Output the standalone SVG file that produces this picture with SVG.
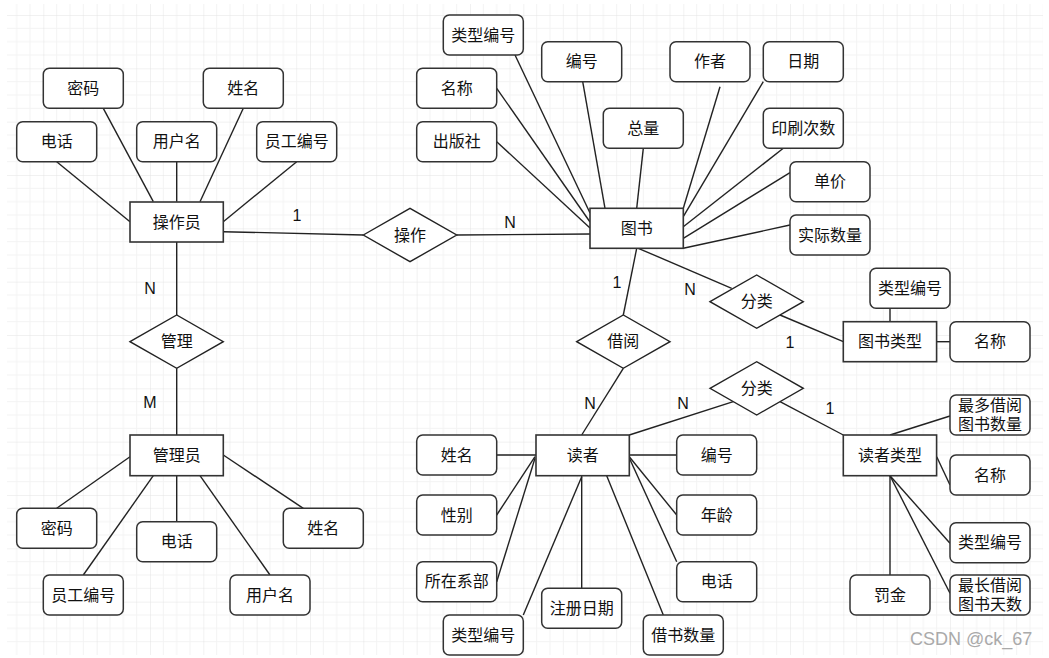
<svg xmlns="http://www.w3.org/2000/svg" width="1049" height="658" viewBox="0 0 1049 658">
<defs>
<pattern id="grid" patternUnits="userSpaceOnUse" x="43.333" y="15" width="53.333" height="53.333">
<path d="M13.333 0V53.333M26.667 0V53.333M40 0V53.333M0 13.333H53.333M0 26.667H53.333M0 40H53.333" stroke="#f3f3f3" stroke-width="1" fill="none"/>
<path d="M0 0V53.333M0 0H53.333" stroke="#e3e3e3" stroke-width="1" fill="none"/>
</pattern>
<style>
.ent{fill:#fff;stroke:#333;stroke-width:1.6}
.att{fill:#fff;stroke:#333;stroke-width:1.5}
.rel{fill:#fff;stroke:#222;stroke-width:1.4}
.t{font-family:"Liberation Sans","Noto Sans CJK SC",sans-serif;font-size:16px;fill:#111;text-anchor:middle}
.c line{stroke:#222;stroke-width:1.4}
.lbl{font-family:"Liberation Sans","Noto Sans CJK SC",sans-serif;font-size:16px;fill:#111;text-anchor:middle}
.wm{font-family:"Liberation Sans","Noto Sans CJK SC",sans-serif;font-size:18px;fill:#aaa}
</style>
</defs>
<rect width="1049" height="658" fill="#fff"/>
<rect x="7" y="4" width="1036" height="651" fill="url(#grid)"/>

<g id="connectors" class="c">
<line x1="56.7" y1="161.7" x2="130" y2="221.7"/>
<line x1="103.3" y1="108.3" x2="153.3" y2="201.7"/>
<line x1="176.7" y1="161.7" x2="176.7" y2="201.7"/>
<line x1="243.3" y1="108.3" x2="200" y2="201.7"/>
<line x1="296.7" y1="161.7" x2="223.3" y2="221.7"/>
<line x1="223.3" y1="231.7" x2="363.3" y2="235"/>
<line x1="456.7" y1="235" x2="590" y2="234"/>
<line x1="176.7" y1="241.7" x2="176.7" y2="315"/>
<line x1="176.7" y1="368.3" x2="176.7" y2="435"/>
<line x1="56.7" y1="508.3" x2="130" y2="456.7"/>
<line x1="83.3" y1="575" x2="153.3" y2="475.7"/>
<line x1="176.7" y1="475.7" x2="176.7" y2="521.7"/>
<line x1="200" y1="475.7" x2="270" y2="575"/>
<line x1="223.3" y1="455" x2="303.3" y2="508.3"/>
<line x1="515" y1="55" x2="590" y2="213"/>
<line x1="496.7" y1="88.3" x2="590" y2="222"/>
<line x1="496.7" y1="141.7" x2="590" y2="228"/>
<line x1="582.7" y1="81.7" x2="605" y2="208.3"/>
<line x1="643.3" y1="148.3" x2="636.7" y2="208.3"/>
<line x1="720" y1="86.7" x2="683.3" y2="208.3"/>
<line x1="763.3" y1="81.7" x2="683.3" y2="216.7"/>
<line x1="783.3" y1="148.3" x2="683.3" y2="226.7"/>
<line x1="790" y1="172.7" x2="683.3" y2="238.3"/>
<line x1="790" y1="225" x2="683.3" y2="248.3"/>
<line x1="636.7" y1="248.3" x2="623.3" y2="315"/>
<line x1="623.3" y1="368.3" x2="581.7" y2="435"/>
<line x1="638.3" y1="248.3" x2="731.7" y2="288.3"/>
<line x1="780" y1="315" x2="843.3" y2="341.7"/>
<line x1="890" y1="308.3" x2="890" y2="321.7"/>
<line x1="936.7" y1="341.7" x2="950" y2="341.7"/>
<line x1="629.3" y1="435" x2="733.3" y2="401.7"/>
<line x1="780" y1="401.7" x2="843.3" y2="435"/>
<line x1="890" y1="435" x2="950" y2="416"/>
<line x1="936.7" y1="456.7" x2="950" y2="485"/>
<line x1="890" y1="475.7" x2="950" y2="543.3"/>
<line x1="890" y1="475.7" x2="950" y2="593.3"/>
<line x1="890" y1="475.7" x2="890" y2="575"/>
<line x1="496.7" y1="455" x2="536" y2="455"/>
<line x1="496.7" y1="515" x2="535" y2="456.7"/>
<line x1="496.7" y1="581.7" x2="535" y2="458.3"/>
<line x1="523.3" y1="615" x2="581.7" y2="476.7"/>
<line x1="581.7" y1="475.7" x2="581.7" y2="588.3"/>
<line x1="606.7" y1="475.7" x2="663.3" y2="615"/>
<line x1="629.3" y1="455" x2="676.7" y2="455"/>
<line x1="629.3" y1="456.7" x2="676.7" y2="515"/>
<line x1="629.3" y1="458" x2="676.7" y2="561.7"/>
</g>

<g id="cardinality">
<text class="lbl" x="297" y="221">1</text>
<text class="lbl" x="510" y="228">N</text>
<text class="lbl" x="150" y="294">N</text>
<text class="lbl" x="150" y="408">M</text>
<text class="lbl" x="617" y="288">1</text>
<text class="lbl" x="590" y="409">N</text>
<text class="lbl" x="690" y="295">N</text>
<text class="lbl" x="790" y="348">1</text>
<text class="lbl" x="683" y="409">N</text>
<text class="lbl" x="830" y="414">1</text>
</g>

<!-- entities -->
<g id="e-czy"><rect class="ent" x="130" y="202" width="93.3" height="40"/><text class="t" x="176.7" y="222" dy="0.35em">操作员</text></g>
<g id="e-ts"><rect class="ent" x="590" y="208.3" width="93.3" height="40"/><text class="t" x="636.7" y="228.3" dy="0.35em">图书</text></g>
<g id="e-gly"><rect class="ent" x="130" y="435" width="93.3" height="40.7"/><text class="t" x="176.7" y="455.3" dy="0.35em">管理员</text></g>
<g id="e-dz"><rect class="ent" x="536" y="435" width="93.3" height="40.7"/><text class="t" x="582.7" y="455.3" dy="0.35em">读者</text></g>
<g id="e-tslx"><rect class="ent" x="843.3" y="321.7" width="93.3" height="40"/><text class="t" x="890" y="341.7" dy="0.35em">图书类型</text></g>
<g id="e-dzlx"><rect class="ent" x="843.3" y="435" width="93.3" height="40.7"/><text class="t" x="890" y="455.3" dy="0.35em">读者类型</text></g>

<!-- relationships -->
<g id="r-cz"><polygon class="rel" points="363.3,235 410,208.3 456.7,235 410,261.7"/><text class="t" x="410" y="235" dy="0.35em">操作</text></g>
<g id="r-gl"><polygon class="rel" points="130,341.7 176.7,315 223.3,341.7 176.7,368.3"/><text class="t" x="176.7" y="341.7" dy="0.35em">管理</text></g>
<g id="r-jy"><polygon class="rel" points="576.7,341.7 623.3,315 670,341.7 623.3,368.3"/><text class="t" x="623.3" y="341.7" dy="0.35em">借阅</text></g>
<g id="r-fl1"><polygon class="rel" points="710,301.7 756.7,275 803.3,301.7 756.7,328.3"/><text class="t" x="756.7" y="301.7" dy="0.35em">分类</text></g>
<g id="r-fl2"><polygon class="rel" points="710,388.3 756.7,361.7 803.3,388.3 756.7,415"/><text class="t" x="756.7" y="388.3" dy="0.35em">分类</text></g>

<!-- 操作员 attributes -->
<g id="a-czy-mm"><rect class="att" x="43.3" y="68.3" width="80" height="40" rx="6"/><text class="t" x="83.3" y="88.3" dy="0.35em">密码</text></g>
<g id="a-czy-xm"><rect class="att" x="203.3" y="68.3" width="80" height="40" rx="6"/><text class="t" x="243.3" y="88.3" dy="0.35em">姓名</text></g>
<g id="a-czy-dh"><rect class="att" x="16.7" y="121.7" width="80" height="40" rx="6"/><text class="t" x="56.7" y="141.7" dy="0.35em">电话</text></g>
<g id="a-czy-yhm"><rect class="att" x="136.7" y="121.7" width="80" height="40" rx="6"/><text class="t" x="176.7" y="141.7" dy="0.35em">用户名</text></g>
<g id="a-czy-ygbh"><rect class="att" x="256.7" y="121.7" width="80" height="40" rx="6"/><text class="t" x="296.7" y="141.7" dy="0.35em">员工编号</text></g>

<!-- 管理员 attributes -->
<g id="a-gly-mm"><rect class="att" x="16.7" y="508.3" width="80" height="40" rx="6"/><text class="t" x="56.7" y="528.3" dy="0.35em">密码</text></g>
<g id="a-gly-ygbh"><rect class="att" x="43.3" y="575" width="80" height="40" rx="6"/><text class="t" x="83.3" y="595" dy="0.35em">员工编号</text></g>
<g id="a-gly-dh"><rect class="att" x="136.7" y="521.7" width="80" height="40" rx="6"/><text class="t" x="176.7" y="541.7" dy="0.35em">电话</text></g>
<g id="a-gly-yhm"><rect class="att" x="230" y="575" width="80" height="40" rx="6"/><text class="t" x="270" y="595" dy="0.35em">用户名</text></g>
<g id="a-gly-xm"><rect class="att" x="283.3" y="508.3" width="80" height="40" rx="6"/><text class="t" x="323.3" y="528.3" dy="0.35em">姓名</text></g>

<!-- 图书 attributes -->
<g id="a-ts-lxbh"><rect class="att" x="443.3" y="15" width="80" height="40" rx="6"/><text class="t" x="483.3" y="35" dy="0.35em">类型编号</text></g>
<g id="a-ts-bh"><rect class="att" x="541.7" y="41.7" width="80" height="40" rx="6"/><text class="t" x="581.7" y="61.7" dy="0.35em">编号</text></g>
<g id="a-ts-zz"><rect class="att" x="670" y="41.7" width="80" height="40" rx="6"/><text class="t" x="710" y="61.7" dy="0.35em">作者</text></g>
<g id="a-ts-rq"><rect class="att" x="763.3" y="41.7" width="80" height="40" rx="6"/><text class="t" x="803.3" y="61.7" dy="0.35em">日期</text></g>
<g id="a-ts-mc"><rect class="att" x="416.7" y="68.3" width="80" height="40" rx="6"/><text class="t" x="456.7" y="88.3" dy="0.35em">名称</text></g>
<g id="a-ts-cbs"><rect class="att" x="416.7" y="121.7" width="80" height="40" rx="6"/><text class="t" x="456.7" y="141.7" dy="0.35em">出版社</text></g>
<g id="a-ts-zl"><rect class="att" x="603.3" y="108.3" width="80" height="40" rx="6"/><text class="t" x="643.3" y="128.3" dy="0.35em">总量</text></g>
<g id="a-ts-yscs"><rect class="att" x="763.3" y="108.3" width="80" height="40" rx="6"/><text class="t" x="803.3" y="128.3" dy="0.35em">印刷次数</text></g>
<g id="a-ts-dj"><rect class="att" x="790" y="161.7" width="80" height="40" rx="6"/><text class="t" x="830" y="181.7" dy="0.35em">单价</text></g>
<g id="a-ts-sjsl"><rect class="att" x="790" y="215" width="80" height="40" rx="6"/><text class="t" x="830" y="235" dy="0.35em">实际数量</text></g>

<!-- 图书类型 attributes -->
<g id="a-tslx-lxbh"><rect class="att" x="870" y="268.3" width="80" height="40" rx="6"/><text class="t" x="910" y="288.3" dy="0.35em">类型编号</text></g>
<g id="a-tslx-mc"><rect class="att" x="950" y="321.7" width="80" height="40" rx="6"/><text class="t" x="990" y="341.7" dy="0.35em">名称</text></g>

<!-- 读者类型 attributes -->
<g id="a-dzlx-zdsl"><rect class="att" x="950" y="395" width="80" height="40" rx="6"/><text class="t" x="990" y="405.5" dy="0.35em">最多借阅</text><text class="t" x="990" y="424.5" dy="0.35em">图书数量</text></g>
<g id="a-dzlx-mc"><rect class="att" x="950" y="455" width="80" height="40" rx="6"/><text class="t" x="990" y="475" dy="0.35em">名称</text></g>
<g id="a-dzlx-lxbh"><rect class="att" x="950" y="522.7" width="80" height="40" rx="6"/><text class="t" x="990" y="542.7" dy="0.35em">类型编号</text></g>
<g id="a-dzlx-zcts"><rect class="att" x="950" y="575" width="80" height="40" rx="6"/><text class="t" x="990" y="585.5" dy="0.35em">最长借阅</text><text class="t" x="990" y="604.5" dy="0.35em">图书天数</text></g>
<g id="a-dzlx-fj"><rect class="att" x="850" y="575" width="80" height="40" rx="6"/><text class="t" x="890" y="595" dy="0.35em">罚金</text></g>

<!-- 读者 attributes -->
<g id="a-dz-xm"><rect class="att" x="416.7" y="435" width="80" height="40" rx="6"/><text class="t" x="456.7" y="455" dy="0.35em">姓名</text></g>
<g id="a-dz-xb"><rect class="att" x="416.7" y="495" width="80" height="40" rx="6"/><text class="t" x="456.7" y="515" dy="0.35em">性别</text></g>
<g id="a-dz-szxb"><rect class="att" x="416.7" y="561.7" width="80" height="40" rx="6"/><text class="t" x="456.7" y="581.7" dy="0.35em">所在系部</text></g>
<g id="a-dz-lxbh"><rect class="att" x="443.3" y="615" width="80" height="40" rx="6"/><text class="t" x="483.3" y="635" dy="0.35em">类型编号</text></g>
<g id="a-dz-zcrq"><rect class="att" x="541.7" y="588.3" width="80" height="40" rx="6"/><text class="t" x="581.7" y="608.3" dy="0.35em">注册日期</text></g>
<g id="a-dz-jssl"><rect class="att" x="643.3" y="615" width="80" height="40" rx="6"/><text class="t" x="683.3" y="635" dy="0.35em">借书数量</text></g>
<g id="a-dz-bh"><rect class="att" x="676.7" y="435" width="80" height="40" rx="6"/><text class="t" x="716.7" y="455" dy="0.35em">编号</text></g>
<g id="a-dz-nl"><rect class="att" x="676.7" y="495" width="80" height="40" rx="6"/><text class="t" x="716.7" y="515" dy="0.35em">年龄</text></g>
<g id="a-dz-dh"><rect class="att" x="676.7" y="561.7" width="80" height="40" rx="6"/><text class="t" x="716.7" y="581.7" dy="0.35em">电话</text></g>

<text class="wm" x="910" y="645">CSDN @ck_67</text>
</svg>
